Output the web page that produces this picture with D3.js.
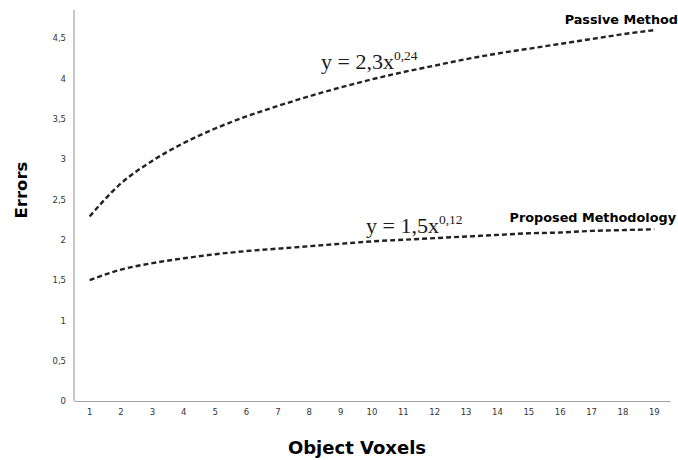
<!DOCTYPE html>
<html><head><meta charset="utf-8">
<script src="https://cdn.jsdelivr.net/npm/d3@7"></script>
<style>body{margin:0;background:#fff}svg{display:block}</style>
</head><body>
<svg id="c" width="678" height="460"></svg>
<script>
const categories = [1,2,3,4,5,6,7,8,9,10,11,12,13,14,15,16,17,18,19];
const passiveValues = [2.29,2.70,2.98,3.20,3.38,3.53,3.66,3.78,3.89,3.99,4.08,4.16,4.24,4.31,4.37,4.43,4.49,4.55,4.60];
const proposedValues = [1.50,1.63,1.71,1.77,1.82,1.86,1.89,1.92,1.95,1.98,2.00,2.02,2.04,2.06,2.08,2.09,2.11,2.12,2.13];
const yTicks = [0,0.5,1,1.5,2,2.5,3,3.5,4,4.5];

(function () {
const svg = d3.select("#c");
const mLeft = 74, mRight = 670, mTop = 10, mBottom = 401;
const x = d3.scaleBand().domain(categories).range([mLeft, mRight]);
const y = d3.scaleLinear().domain([0, 4.85]).range([mBottom, mTop]);
const fmt = d => String(d).replace(".", ",");

const xAxis = svg.append("g").attr("transform", `translate(0,${mBottom})`)
  .call(d3.axisBottom(x).tickSize(0).tickPadding(8));
const yAxis = svg.append("g").attr("transform", `translate(${mLeft},0)`)
  .call(d3.axisLeft(y).tickValues(yTicks).tickFormat(fmt).tickSize(0).tickPadding(8));
[xAxis, yAxis].forEach(g => {
  g.select(".domain").attr("stroke", "#a0a0a0").attr("stroke-width", 1.2);
  g.selectAll("text").attr("font-family", "DejaVu Sans").attr("font-size", 8.5).attr("fill", "#333");
});
yAxis.select(".domain").attr("d", `M0,${mTop}V${mBottom}`);

const line = d3.line().curve(d3.curveMonotoneX)
  .x((d, i) => x(categories[i]) + x.bandwidth() / 2).y(d => y(d));
[passiveValues, proposedValues].forEach(v => {
  svg.append("path").datum(v).attr("d", line).attr("fill", "none")
    .attr("stroke", "#222").attr("stroke-width", 2.4).attr("stroke-dasharray", "5,3");
});

svg.append("text").attr("x", 678).attr("y", 24).attr("text-anchor", "end")
  .attr("font-family", "DejaVu Sans").attr("font-weight", "bold").attr("font-size", 12.8).text("Passive Method");
svg.append("text").attr("x", 676).attr("y", 222).attr("text-anchor", "end")
  .attr("font-family", "DejaVu Sans").attr("font-weight", "bold").attr("font-size", 12.8).text("Proposed Methodology");

function eq(xp, yp, base, sup) {
  const t = svg.append("text").attr("x", xp).attr("y", yp)
    .attr("font-family", "Liberation Serif").attr("font-size", 22).attr("fill", "#1a1a1a");
  t.append("tspan").text(base);
  t.append("tspan").attr("font-size", 13.5).attr("dy", -9).text(sup);
}
eq(321, 69, "y = 2,3x", "0,24");
eq(366, 233, "y = 1,5x", "0,12");

svg.append("text").attr("transform", "translate(27,190) rotate(-90)").attr("text-anchor", "middle")
  .attr("font-family", "DejaVu Sans").attr("font-weight", "bold").attr("font-size", 16.5).text("Errors");
svg.append("text").attr("x", 357).attr("y", 454).attr("text-anchor", "middle")
  .attr("font-family", "DejaVu Sans").attr("font-weight", "bold").attr("font-size", 18).text("Object Voxels");
})();
</script>
</body></html>
